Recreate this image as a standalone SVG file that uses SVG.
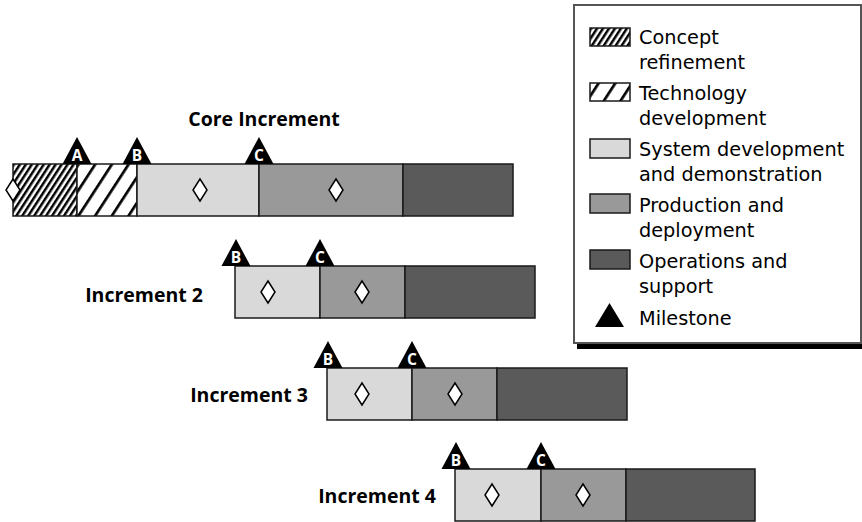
<svg xmlns="http://www.w3.org/2000/svg" xmlns:xlink="http://www.w3.org/1999/xlink" width="862" height="522" viewBox="0 0 862 522">
<style>
  .seg { stroke: #1a1a1a; stroke-width: 1.5; }
  .light { fill: #d9d9d9; }
  .mid { fill: #999999; }
  .dark { fill: #5a5a5a; }
  .dense { fill: url(#hatchDense); }
  .sparse { fill: url(#hatchSparse); }
  .diamond { fill: #ffffff; stroke: #000000; stroke-width: 1.5; stroke-linejoin: miter; }
  .tri { fill: #000000; }
  .ms { font-family: "Open Sans", "DejaVu Sans", sans-serif; font-weight: bold; font-size: 15.5px; fill: #ffffff; text-anchor: middle; }
  .label { font-family: "Open Sans", "DejaVu Sans", sans-serif; font-weight: bold; font-size: 19.5px; fill: #000000; }
  .leg { font-family: "DejaVu Sans", "Liberation Sans", sans-serif; font-size: 19.3px; fill: #000000; }
  .sw { stroke: #1a1a1a; stroke-width: 1.5; }
</style>
<defs>
  <pattern id="hatchDense" patternUnits="userSpaceOnUse" width="5" height="10" patternTransform="rotate(33)">
    <rect width="5" height="10" fill="#ffffff"/>
    <rect width="2.5" height="10" fill="#000000"/>
  </pattern>
  <pattern id="hatchSparse" patternUnits="userSpaceOnUse" width="14" height="10" patternTransform="rotate(33)">
    <rect width="14" height="10" fill="#ffffff"/>
    <rect width="2.7" height="10" fill="#000000"/>
  </pattern>
  <path id="dia" class="diamond" d="M0,-11 L7,0 L0,11 L-7,0 Z"/>
  <path id="tri" class="tri" d="M0,-27 L14.5,0 L-14.5,0 Z"/>
</defs>
<rect width="862" height="522" fill="#ffffff"/>

<g id="legend">
  <rect x="577" y="344" width="285" height="5" fill="#000000"/>
  <rect x="574" y="5" width="287" height="338" fill="#ffffff" stroke="#555555" stroke-width="2"/>
  <rect class="sw dense" x="590" y="28" width="40" height="18"/>
  <text class="leg" x="639" y="44">Concept</text>
  <text class="leg" x="639" y="69">refinement</text>
  <rect class="sw sparse" x="590" y="83" width="40" height="18"/>
  <text class="leg" x="639" y="100">Technology</text>
  <text class="leg" x="639" y="125">development</text>
  <rect class="sw light" x="590" y="139" width="40" height="19"/>
  <text class="leg" x="639" y="156">System development</text>
  <text class="leg" x="639" y="181">and demonstration</text>
  <rect class="sw mid" x="590" y="194" width="40" height="19"/>
  <text class="leg" x="639" y="212">Production and</text>
  <text class="leg" x="639" y="237">deployment</text>
  <rect class="sw dark" x="590" y="250" width="40" height="19"/>
  <text class="leg" x="639" y="268">Operations and</text>
  <text class="leg" x="639" y="293">support</text>
  <path class="tri" d="M609.5,303 L624,327 L595,327 Z"/>
  <text class="leg" x="639" y="325">Milestone</text>
</g>

<g id="core-increment">
  <text class="label" x="264" y="126" text-anchor="middle">Core Increment</text>
  <rect class="seg dense" x="13" y="164" width="64" height="52"/>
  <rect class="seg sparse" x="77" y="164" width="60" height="52"/>
  <rect class="seg light" x="137" y="164" width="122" height="52"/>
  <rect class="seg mid" x="259" y="164" width="144" height="52"/>
  <rect class="seg dark" x="403" y="164" width="110" height="52"/>
  <use href="#dia" xlink:href="#dia" x="13" y="190"/>
  <use href="#dia" xlink:href="#dia" x="200" y="190"/>
  <use href="#dia" xlink:href="#dia" x="336" y="190"/>
  <use href="#tri" xlink:href="#tri" x="77" y="164"/>
  <text class="ms" x="77" y="161">A</text>
  <use href="#tri" xlink:href="#tri" x="137" y="164"/>
  <text class="ms" x="137" y="161">B</text>
  <use href="#tri" xlink:href="#tri" x="259" y="164"/>
  <text class="ms" x="259" y="161">C</text>
</g>

<g id="increment-2">
  <text class="label" x="203" y="302" text-anchor="end">Increment 2</text>
  <rect class="seg light" x="235" y="266" width="85" height="52"/>
  <rect class="seg mid" x="320" y="266" width="85" height="52"/>
  <rect class="seg dark" x="405" y="266" width="130" height="52"/>
  <use href="#dia" xlink:href="#dia" x="268" y="292"/>
  <use href="#dia" xlink:href="#dia" x="362" y="292"/>
  <use href="#tri" xlink:href="#tri" x="236" y="266"/>
  <text class="ms" x="236" y="263">B</text>
  <use href="#tri" xlink:href="#tri" x="320" y="266"/>
  <text class="ms" x="320" y="263">C</text>
</g>

<g id="increment-3">
  <text class="label" x="308" y="402" text-anchor="end">Increment 3</text>
  <rect class="seg light" x="327" y="368" width="85" height="52"/>
  <rect class="seg mid" x="412" y="368" width="85" height="52"/>
  <rect class="seg dark" x="497" y="368" width="130" height="52"/>
  <use href="#dia" xlink:href="#dia" x="362" y="394"/>
  <use href="#dia" xlink:href="#dia" x="455" y="394"/>
  <use href="#tri" xlink:href="#tri" x="328" y="368"/>
  <text class="ms" x="328" y="365">B</text>
  <use href="#tri" xlink:href="#tri" x="412" y="368"/>
  <text class="ms" x="412" y="365">C</text>
</g>

<g id="increment-4">
  <text class="label" x="436" y="503" text-anchor="end">Increment 4</text>
  <rect class="seg light" x="455" y="469" width="86" height="52"/>
  <rect class="seg mid" x="541" y="469" width="85" height="52"/>
  <rect class="seg dark" x="626" y="469" width="129" height="52"/>
  <use href="#dia" xlink:href="#dia" x="492" y="495"/>
  <use href="#dia" xlink:href="#dia" x="583" y="495"/>
  <use href="#tri" xlink:href="#tri" x="456" y="469"/>
  <text class="ms" x="456" y="466">B</text>
  <use href="#tri" xlink:href="#tri" x="541" y="469"/>
  <text class="ms" x="541" y="466">C</text>
</g>

<g id="connectors"/>
</svg>
